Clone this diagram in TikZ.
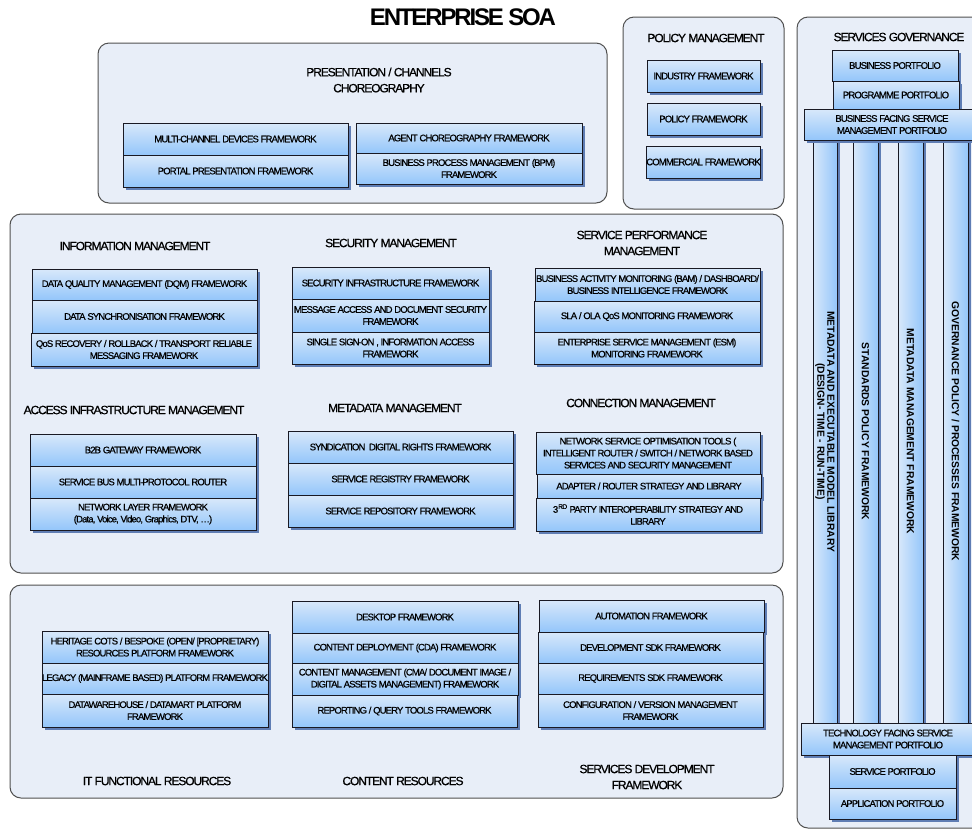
\documentclass[tikz,border=0pt]{standalone}
\usepackage{fontspec}
\setmainfont{Liberation Sans}
\newfontfamily\tightf{Liberation Sans}[LetterSpace=-9,FakeBold=0.6]
\newfontfamily\titlef{Liberation Sans}[LetterSpace=-9]
\usetikzlibrary{shadows}
\definecolor{boxtop}{RGB}{216,232,250}
\definecolor{boxbot}{RGB}{148,198,250}
\definecolor{shadowc}{RGB}{95,125,180}
\definecolor{panel}{RGB}{232,238,248}
\definecolor{panelline}{RGB}{80,80,80}
\definecolor{edge}{RGB}{25,25,35}
\newcommand\place[7]{%
  \pgfmathsetmacro\mywd{#5-#3}%
  \pgfmathsetmacro\myht{#6-#4}%
  \pgfmathsetmacro\mycx{(#3+#5)/2}%
  \pgfmathsetmacro\mycy{(#4+#6)/2}%
  \node[#2, minimum width=\mywd pt, minimum height=\myht pt] (#1) at (\mycx,\mycy) {#7};}
\begin{document}
\begin{tikzpicture}[x=1pt,y=-1pt,
  box/.style={draw=edge, line width=0.7pt, top color=boxtop, bottom color=boxbot,
    drop shadow={shadow xshift=2.5pt, shadow yshift=-2.5pt, fill=shadowc, opacity=1},
    inner sep=0pt, align=center, font=\tightf\fontsize{9.5}{12}\selectfont},
  colbox/.style={draw=edge, line width=0.7pt, left color=boxtop, right color=boxbot,
    drop shadow={shadow xshift=2.5pt, shadow yshift=-2.5pt, fill=shadowc, opacity=1},
    inner sep=0pt},
  coltext/.style={rotate=-90, align=center, inner sep=0pt, font=\bfseries\fontsize{10.3}{10}\selectfont},
  panelbox/.style={draw=panelline, line width=1pt, fill=panel, rounded corners=11pt, inner sep=0pt},
  heading/.style={align=center, inner sep=0pt, font=\tightf\fontsize{12}{16}\selectfont}]
\useasboundingbox (0,0) rectangle (972,831);
\clip (0,0) rectangle (972,831);
\fill[white] (0,0) rectangle (972,831);

% panels
\place{pres}{panelbox}{98}{43}{607}{203}{}
\place{policy}{panelbox}{623}{17}{784}{209}{}
\place{gov}{panelbox}{797}{17}{992}{828}{}
\place{mid}{panelbox}{10}{214}{783}{573}{}
\place{bot}{panelbox}{10}{585}{783}{798}{}

% headings
\node[heading, font=\titlef\bfseries\fontsize{24}{28}\selectfont] (title) at (463,17) {ENTERPRISE SOA};
\node[heading] (hpres) at (379,80) {PRESENTATION / CHANNELS\\CHOREOGRAPHY};
\node[heading] (hpol) at (706,38) {POLICY MANAGEMENT};
\node[heading] (hgov) at (899,37) {SERVICES GOVERNANCE};
\node[heading] (hinfo) at (135,246) {INFORMATION MANAGEMENT};
\node[heading] (hsec) at (391,243) {SECURITY MANAGEMENT};
\node[heading] (hperf) at (642,243) {SERVICE PERFORMANCE\\MANAGEMENT};
\node[heading] (hacc) at (134,410) {ACCESS INFRASTRUCTURE MANAGEMENT};
\node[heading] (hmeta) at (395,408) {METADATA MANAGEMENT};
\node[heading] (hconn) at (641,403) {CONNECTION MANAGEMENT};
\node[heading] (hit) at (157,781) {IT FUNCTIONAL RESOURCES};
\node[heading] (hcont) at (403,781) {CONTENT RESOURCES};
\node[heading] (hdev) at (647,777) {SERVICES DEVELOPMENT\\FRAMEWORK};

% presentation
\place{mcd}{box}{123}{123}{348}{155}{MULTI-CHANNEL DEVICES FRAMEWORK}
\place{ppf}{box}{123}{155}{348}{187}{PORTAL PRESENTATION FRAMEWORK}
\place{acf}{box}{356}{123}{582}{153}{AGENT CHOREOGRAPHY FRAMEWORK}
\place{bpm}{box}{356}{153}{582}{184}{BUSINESS PROCESS MANAGEMENT (BPM)\\FRAMEWORK}

% policy
\place{ind}{box}{647}{60}{760}{92}{INDUSTRY FRAMEWORK}
\place{pol}{box}{647}{103}{760}{135}{POLICY FRAMEWORK}
\place{com}{box}{647}{146}{760}{178}{COMMERCIAL FRAMEWORK}

% governance
\place{col1}{colbox}{813}{140}{837}{723}{}
\place{col2}{colbox}{853}{140}{878}{723}{}
\place{col3}{colbox}{898}{140}{923}{723}{}
\place{col4}{colbox}{943}{140}{968}{723}{}
\node[coltext] (t1) at (col1.center) {METADATA AND EXECUTABLE MODEL LIBRARY\\(DESIGN- TIME - RUN-TIME)};
\node[coltext] (t2) at (col2.center) {STANDARDS POLICY FRAMEWORK};
\node[coltext] (t3) at (col3.center) {METADATA MANAGEMENT FRAMEWORK};
\node[coltext] (t4) at (col4.center) {GOVERNANCE POLICY / PROCESSES FRAMEWORK};
\place{bp}{box}{832}{50}{958}{81}{BUSINESS PORTFOLIO}
\place{pp}{box}{833}{81}{959}{109}{PROGRAMME PORTFOLIO}
\place{bfs}{box}{804}{109}{980}{140}{BUSINESS FACING SERVICE\\MANAGEMENT PORTFOLIO}
\place{tfs}{box}{801}{723}{975}{755}{TECHNOLOGY FACING SERVICE\\MANAGEMENT PORTFOLIO}
\place{sp}{box}{829}{755}{956}{788}{SERVICE PORTFOLIO}
\place{ap}{box}{829}{788}{956}{819}{APPLICATION PORTFOLIO}

% information management
\place{dqm}{box}{32}{269}{257}{300}{DATA QUALITY MANAGEMENT (DQM) FRAMEWORK}
\place{dsf}{box}{32}{300}{257}{333}{DATA SYNCHRONISATION FRAMEWORK}
\place{qos}{box}{31}{333}{257}{366}{QoS RECOVERY / ROLLBACK / TRANSPORT RELIABLE\\MESSAGING FRAMEWORK}

% security
\place{sif}{box}{292}{267}{489}{299}{SECURITY INFRASTRUCTURE FRAMEWORK}
\place{mad}{box}{292}{299}{489}{332}{MESSAGE ACCESS AND DOCUMENT SECURITY\\FRAMEWORK}
\place{sso}{box}{292}{332}{489}{364}{SINGLE SIGN-ON , INFORMATION ACCESS\\FRAMEWORK}

% performance
\place{bam}{box}{535}{268}{760}{301}{BUSINESS ACTIVITY MONITORING (BAM) / DASHBOARD/\\BUSINESS INTELLIGENCE FRAMEWORK}
\place{sla}{box}{534}{301}{760}{332}{SLA / OLA QoS MONITORING FRAMEWORK}
\place{esm}{box}{534}{332}{760}{364}{ENTERPRISE SERVICE MANAGEMENT (ESM)\\MONITORING FRAMEWORK}

% access
\place{b2b}{box}{30}{434}{256}{466}{B2B GATEWAY FRAMEWORK}
\place{sbr}{box}{30}{466}{256}{498}{SERVICE BUS MULTI-PROTOCOL ROUTER}
\place{nlf}{box}{30}{498}{256}{530}{NETWORK LAYER FRAMEWORK\\(Data, Voice, Video, Graphics, DTV, …)}

% metadata
\place{sdr}{box}{288}{431}{513}{463}{SYNDICATION\ \ DIGITAL RIGHTS FRAMEWORK}
\place{srg}{box}{288}{463}{513}{495}{SERVICE REGISTRY FRAMEWORK}
\place{srp}{box}{288}{495}{513}{527}{SERVICE REPOSITORY FRAMEWORK}

% connection
\place{nso}{box}{536}{432}{760}{474}{NETWORK SERVICE OPTIMISATION TOOLS (\\INTELLIGENT ROUTER / SWITCH / NETWORK BASED\\SERVICES AND SECURITY MANAGEMENT}
\place{ars}{box}{537}{474}{761}{498}{ADAPTER / ROUTER STRATEGY AND LIBRARY}
\place{tpi}{box}{536}{498}{760}{531}{3\textsuperscript{RD} PARTY INTEROPERABILITY STRATEGY AND\\LIBRARY}

% IT functional resources
\place{her}{box}{42}{631}{268}{663}{HERITAGE COTS / BESPOKE (OPEN/ [PROPRIETARY)\\RESOURCES PLATFORM FRAMEWORK}
\place{leg}{box}{42}{663}{268}{694}{LEGACY (MAINFRAME BASED) PLATFORM FRAMEWORK}
\place{dwh}{box}{42}{694}{268}{727}{DATAWAREHOUSE / DATAMART PLATFORM\\FRAMEWORK}

% content resources
\place{dsk}{box}{292}{601}{518}{633}{DESKTOP FRAMEWORK}
\place{cda}{box}{292}{633}{518}{663}{CONTENT DEPLOYMENT (CDA) FRAMEWORK}
\place{cma}{box}{292}{663}{518}{695}{CONTENT MANAGEMENT (CMA/ DOCUMENT IMAGE /\\DIGITAL ASSETS MANAGEMENT) FRAMEWORK}
\place{rqt}{box}{292}{695}{517}{727}{REPORTING / QUERY TOOLS FRAMEWORK}

% services development
\place{aut}{box}{539}{600}{764}{632}{AUTOMATION FRAMEWORK}
\place{dev}{box}{538}{632}{763}{663}{DEVELOPMENT SDK FRAMEWORK}
\place{req}{box}{538}{663}{763}{694}{REQUIREMENTS SDK FRAMEWORK}
\place{cfg}{box}{538}{694}{763}{727}{CONFIGURATION / VERSION MANAGEMENT\\FRAMEWORK}
\end{tikzpicture}
\end{document}
